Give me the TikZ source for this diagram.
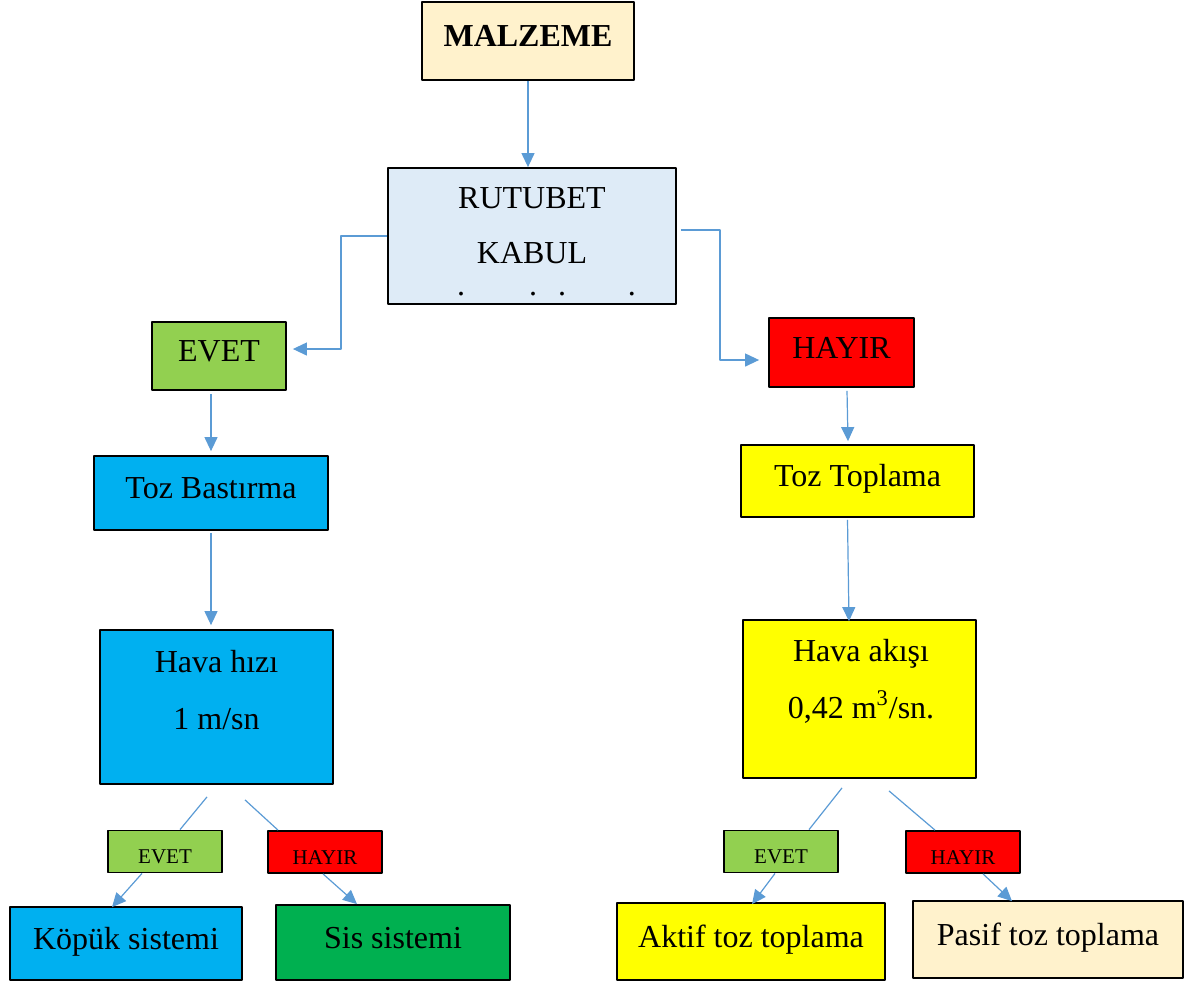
\documentclass[tikz,border=0pt]{standalone}
\usepackage{fontspec}
\setmainfont{Liberation Serif}
\usetikzlibrary{arrows.meta,calc}
\definecolor{krem}{HTML}{FFF2CC}
\definecolor{acikmavi}{HTML}{DEEBF7}
\definecolor{yesil}{HTML}{92D050}
\definecolor{kirmizi}{HTML}{FF0000}
\definecolor{mavi}{HTML}{00B0F0}
\definecolor{koyuyesil}{HTML}{00B050}
\definecolor{sari}{HTML}{FFFF00}
\definecolor{okmavi}{HTML}{5B9BD5}
\begin{document}
\begin{tikzpicture}[x=0.5pt,y=-0.5pt,line join=round,
	kutu/.style={draw=black,line width=0.9pt,inner sep=0pt,text height=10.6pt,text depth=5pt,font=\fontsize{16}{19}\selectfont},
	kucuk/.style={draw=black,line width=0.9pt,inner sep=0pt,minimum width=57pt,minimum height=21pt,text height=12pt,text depth=0pt,font=\fontsize{10.5}{12}\selectfont},
	yazi/.style={anchor=base,inner sep=0pt,font=\fontsize{16}{19}\selectfont},
	ok/.style={draw=okmavi,line width=0.6pt,-{Triangle[length=7pt,width=6.5pt]}},
	cizgi/.style={draw=okmavi,line width=0.6pt}]
	\useasboundingbox (0,0) rectangle (1192,982);
	\node[kutu,fill=krem,minimum width=106pt,minimum height=39pt] (malzeme) at (528,41) {\textbf{MALZEME}};
	\node[kutu,fill=acikmavi,minimum width=144pt,minimum height=68pt] (rutubet) at (532,236) {};
	\node[yazi] (rutubetY) at (532,208.5) {RUTUBET};
	\node[yazi] (kabulY) at (532,263.5) {KABUL};
	\node[yazi] (noktalar) at (546.5,295) {.\hspace{32pt}.\hspace{10.5pt}.\hspace{31pt}.};
	\node[kutu,fill=yesil,minimum width=67pt,minimum height=34pt] (evet) at (219,356) {EVET};
	\node[kutu,fill=kirmizi,minimum width=72.5pt,minimum height=34.5pt] (hayir) at (841.5,352.5) {HAYIR};
	\node[kutu,fill=mavi,minimum width=117pt,minimum height=37pt] (tozB) at (211,493) {Toz Bastırma};
	\node[kutu,fill=mavi,minimum width=116.5pt,minimum height=77pt] (havaH) at (216.5,707) {};
	\node[yazi] (havaHY) at (216.5,672.5) {Hava hızı};
	\node[yazi] (hizY) at (216.5,729) {1 m/sn};
	\node[kutu,fill=sari,minimum width=116.5pt,minimum height=36pt] (tozT) at (857.5,481) {Toz Toplama};
	\node[kutu,fill=sari,minimum width=116.5pt,minimum height=79pt] (havaA) at (859.5,699) {};
	\node[yazi] (havaAY) at (861,661.5) {Hava akışı};
	\node[yazi] (akisY) at (861,718) {0,42 m\textsuperscript{3}/sn.};
	\node[kucuk,fill=yesil] (evetSol) at (165,851.5) {EVET};
	\node[kucuk,fill=kirmizi] (hayirSol) at (325,852) {HAYIR};
	\node[kucuk,fill=yesil] (evetSag) at (781,851.5) {EVET};
	\node[kucuk,fill=kirmizi] (hayirSag) at (963,852) {HAYIR};
	\node[kutu,fill=mavi,minimum width=116pt,minimum height=36.5pt] (kopuk) at (126,943.5) {Köpük sistemi};
	\node[kutu,fill=koyuyesil,minimum width=117pt,minimum height=37.5pt] (sis) at (393,942.5) {Sis sistemi};
	\node[kutu,fill=sari,minimum width=134pt,minimum height=38.5pt] (aktif) at (751,941.5) {Aktif toz toplama};
	\node[kutu,fill=krem,minimum width=135pt,minimum height=38.5pt] (pasif) at (1048,939.5) {Pasif toz toplama};
	\path
	(341,236) coordinate (solK1)
	(341,349) coordinate (solK2)
	(720,230) coordinate (sagK1)
	(720,360) coordinate (sagK2)
	;
	\draw[ok] (malzeme.south) -- (malzeme.south |- rutubet.north);
	\draw[ok,shorten >=3pt] (rutubet.west) -- (solK1) -- (solK2) -- (evet.east |- solK2);
	\draw[ok,shorten >=4.5pt] ($(rutubet.east |- sagK1)+(4,0)$) -- (sagK1) -- (sagK2) -- (hayir.west |- sagK2);
	\draw[ok,shorten <=1.5pt,shorten >=2pt] (tozB.north |- evet.south) -- (tozB.north);
	\draw[ok,shorten <=1pt,shorten >=2pt] (tozB.south) -- (tozB.south |- havaH.north);
	\draw[ok] ($(hayir.south)+(5.5,3)$) -- ($(tozT.north)+(-9.5,-3)$);
	\draw[ok] ($(tozT.south)+(-10,2)$) -- ($(havaA.north)+(-10.5,2)$);
	\draw[cizgi] ($(havaH.south)+(-9.5,12)$) -- ($(evetSol.north)+(15,0)$);
	\draw[cizgi] ($(havaH.south)+(28.5,15)$) -- ($(hayirSol.north)+(-47,0)$);
	\draw[ok] ($(evetSol.south)+(-23,0)$) -- ($(kopuk.north)+(-14,1)$);
	\draw[ok] ($(hayirSol.south)+(-2,0)$) -- ($(sis.north)+(-36,0)$);
	\draw[cizgi] ($(havaA.south)+(-17.5,9)$) -- ($(evetSag.north)+(28,0)$);
	\draw[cizgi] ($(havaA.south)+(29.5,12)$) -- ($(hayirSag.north)+(-28,0)$);
	\draw[ok] ($(evetSag.south)+(-6,0)$) -- ($(aktif.north)+(1,2)$);
	\draw[ok] ($(hayirSag.south)+(20,0)$) -- ($(pasif.north)+(-36,1)$);
\end{tikzpicture}
\end{document}
